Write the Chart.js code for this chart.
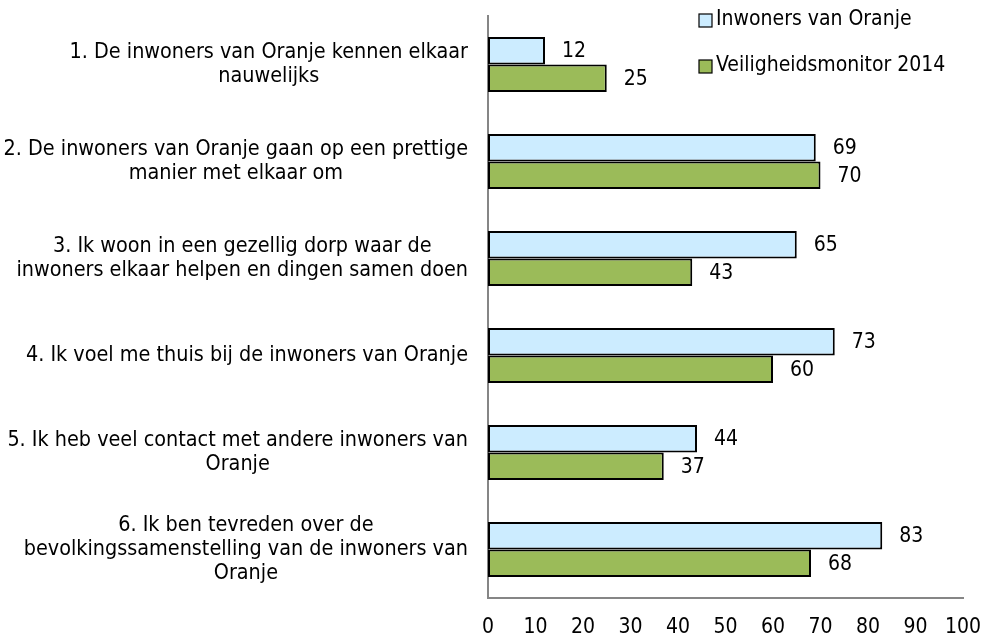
<!DOCTYPE html>
<html>
<head>
<meta charset="utf-8">
<script src="https://cdn.jsdelivr.net/npm/chart.js@4/dist/chart.umd.min.js"></script>
<style>
html,body{margin:0;padding:0;background:#fff;}
#wrap{width:985px;height:638px;position:relative;}
</style>
</head>
<body>
<div id="wrap"><canvas id="c"></canvas></div>
<script>
const categories = [
  ["1. De inwoners van Oranje kennen elkaar", "nauwelijks"],
  ["2. De inwoners van Oranje gaan op een prettige", "manier met elkaar om"],
  ["3. Ik woon in een gezellig dorp waar de", "inwoners elkaar helpen en dingen samen doen"],
  ["4. Ik voel me thuis bij de inwoners van Oranje"],
  ["5. Ik heb veel contact met andere inwoners van", "Oranje"],
  ["6. Ik ben tevreden over de", "bevolkingssamenstelling van de inwoners van", "Oranje"]
];
const seriesNames = ["Inwoners van Oranje", "Veiligheidsmonitor 2014"];
const inwonersValues = [12, 69, 65, 73, 44, 83];
const monitorValues = [25, 70, 43, 60, 37, 68];
const xTicks = [0, 10, 20, 30, 40, 50, 60, 70, 80, 90, 100];

const FONT = "'DejaVu Sans Condensed', 'DejaVu Sans', sans-serif";

const labelPlugin = {
  id: 'customText',
  afterDraw(chart) {
    const ctx = chart.ctx;
    const area = chart.chartArea;
    const yScale = chart.scales.y;
    ctx.save();
    // category labels
    ctx.font = "21.4px " + FONT;
    ctx.fillStyle = '#000';
    ctx.textBaseline = 'middle';
    ctx.textAlign = 'center';
    const lh = 24;
    categories.forEach((lines, i) => {
      const cy = yScale.getPixelForValue(i);
      let maxW = 0;
      lines.forEach(l => { maxW = Math.max(maxW, ctx.measureText(l).width); });
      const right = area.left - 20;
      const cx = right - maxW / 2;
      const start = cy - (lines.length - 1) * lh / 2;
      lines.forEach((l, k) => ctx.fillText(l, cx, start + k * lh));
    });
    // value labels
    ctx.font = "21px " + FONT;
    ctx.textAlign = 'left';
    chart.data.datasets.forEach((ds, di) => {
      const meta = chart.getDatasetMeta(di);
      meta.data.forEach((bar, i) => {
        ctx.fillText(String(ds.data[i]), bar.x + 17, bar.y + 1);
      });
    });
    // legend
    const lx = 699, ly = [20, 66];
    chart.data.datasets.forEach((ds, di) => {
      ctx.fillStyle = ds.backgroundColor;
      ctx.fillRect(lx, ly[di] - 6, 13, 13);
      ctx.strokeStyle = '#000';
      ctx.lineWidth = 1.2;
      ctx.strokeRect(lx, ly[di] - 6, 13, 13);
      ctx.fillStyle = '#000';
      ctx.fillText(ds.label, lx + 17, ly[di]);
    });
    ctx.restore();
  }
};

new Chart(document.getElementById('c'), {
  type: 'bar',
  data: {
    labels: categories.map(c => c.join(' ')),
    datasets: [
      { label: seriesNames[0], data: inwonersValues, backgroundColor: '#CCECFF', borderColor: '#000', borderWidth: 2, borderSkipped: false },
      { label: seriesNames[1], data: monitorValues, backgroundColor: '#9BBB59', borderColor: '#000', borderWidth: 2, borderSkipped: false }
    ]
  },
  options: {
    indexAxis: 'y',
    responsive: true,
    maintainAspectRatio: false,
    animation: false,
    layout: { padding: { top: 16, right: 22, left: 0, bottom: 0 } },
    datasets: { bar: { categoryPercentage: 0.567, barPercentage: 1 } },
    plugins: { legend: { display: false }, tooltip: { enabled: false } },
    scales: {
      x: {
        min: 0, max: 100,
        afterBuildTicks: s => { s.ticks = xTicks.map(v => ({ value: v })); },
        afterFit: s => { s.height = 40; s.paddingLeft = 0; s.paddingRight = 0; },
        grid: { display: false, drawTicks: false },
        border: { display: true, color: '#868686', width: 2 },
        ticks: { color: '#000', font: { family: FONT, size: 21 }, padding: 17, maxRotation: 0, autoSkip: false }
      },
      y: {
        grid: { display: false, drawTicks: false },
        border: { display: true, color: '#868686', width: 2 },
        ticks: { display: false },
        afterFit: s => { s.width = 488; s.paddingTop = 0; s.paddingBottom = 0; }
      }
    }
  },
  plugins: [labelPlugin]
});
</script>
</body>
</html>
